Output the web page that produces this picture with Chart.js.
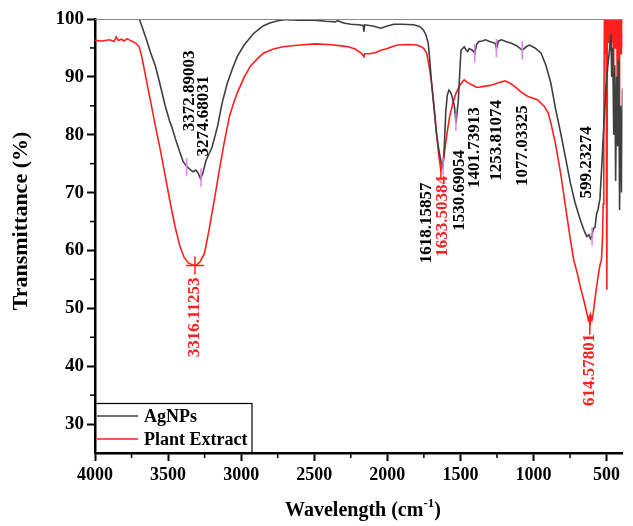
<!DOCTYPE html>
<html>
<head>
<meta charset="utf-8">
<script src="https://cdn.jsdelivr.net/npm/chart.js@4.4.1/dist/chart.umd.min.js"></script>
<style>
  html, body { margin: 0; padding: 0; background: #fff; }
</style>
</head>
<body>
<canvas id="ftir" width="633" height="526"></canvas>
<script>
  // AgNPs spectrum (wavenumber, transmittance)
  const agWave = [4000, 3900, 3800, 3750, 3700, 3680, 3650, 3620, 3586, 3550, 3520, 3490, 3475, 3450, 3420, 3396,
    3374, 3350, 3330, 3310, 3295, 3278, 3262, 3240, 3200, 3162, 3130, 3095, 3060, 3027, 2980, 2915, 2850, 2804,
    2750, 2692, 2600, 2500, 2420, 2357, 2340, 2300, 2250, 2200, 2165, 2160, 2155, 2100, 2044, 2000, 1954, 1900,
    1820, 1780, 1753, 1735, 1720, 1710, 1697, 1680, 1664, 1645, 1630, 1619, 1610, 1600, 1590, 1579, 1567, 1557,
    1541, 1530, 1522, 1514, 1505, 1496, 1474, 1460, 1451, 1440, 1418, 1401, 1390, 1373, 1350, 1329, 1300, 1262,
    1253, 1240, 1217, 1190, 1150, 1110, 1077, 1050, 1027, 990, 948, 915, 881, 850, 814, 780, 747, 715, 680, 650,
    635, 620, 610, 601, 590, 579, 568, 559, 545, 532, 518, 505, 491, 478, 470, 465, 458, 451, 444, 438, 431, 424,
    417, 411, 404, 397, 391];
  const agTrans = [103.5, 103.4, 103.2, 102.5, 100.2, 98.8, 96.6, 94.2, 91.8, 88.2, 85.0, 82.4, 81.4, 79.3, 77.0, 75.3,
    74.6, 74.0, 73.6, 73.9, 73.4, 72.4, 73.4, 75.6, 77.8, 81.4, 85.5, 88.9, 91.4, 93.5, 95.5, 97.5, 98.8, 99.3,
    99.7, 99.9, 99.8, 99.8, 99.6, 99.5, 99.7, 99.3, 99.1, 99.0, 98.9, 97.8, 99.0, 98.8, 98.4, 98.8, 99.1, 99.1,
    99.0, 98.7, 98.1, 97.2, 95.8, 93.0, 88.9, 84.5, 80.3, 77.0, 75.1, 74.5, 78.0, 84.0, 86.8, 87.7, 87.3, 86.6,
    84.9, 82.0, 84.0, 86.0, 90.5, 94.6, 95.2, 94.6, 94.4, 94.9, 94.6, 94.1, 95.6, 96.1, 96.2, 96.4, 96.1, 95.8,
    94.9, 96.2, 96.4, 96.1, 95.8, 95.3, 94.6, 95.2, 95.5, 95.0, 94.1, 92.0, 88.9, 84.6, 80.3, 75.9, 71.6, 68.2, 65.3, 63.2,
    62.4, 62.7, 62.0, 62.4, 63.8, 64.0, 66.4, 67.0, 69.0, 75.0, 82.0, 88.0, 92.0, 95.0, 97.4, 90.0, 95.0, 80.0,
    92.0, 72.0, 90.0, 78.0, 93.0, 67.0, 85.0, 70.0, 88.0];

  // Plant extract spectrum
  const plWave = [4000, 3950, 3900, 3870, 3855, 3840, 3820, 3800, 3780, 3760, 3743, 3720, 3698, 3680, 3665, 3653,
    3620, 3586, 3550, 3519, 3485, 3452, 3420, 3390, 3360, 3330, 3316, 3300, 3280, 3251, 3220, 3184, 3150, 3117,
    3080, 3050, 3027, 2980, 2938, 2890, 2848, 2780, 2714, 2600, 2491, 2400, 2330, 2268, 2220, 2180, 2160, 2156,
    2120, 2080, 2044, 2000, 1960, 1932, 1850, 1800, 1775, 1750, 1731, 1715, 1697, 1680, 1664, 1648, 1634, 1620,
    1607, 1590, 1574, 1550, 1530, 1500, 1474, 1450, 1418, 1390, 1373, 1330, 1284, 1240, 1195, 1160, 1127, 1080,
    1038, 1000, 971, 926, 900, 881, 850, 814, 780, 747, 725, 700, 680, 655, 635, 625, 618, 614, 608, 600, 591,
    580, 568, 555, 545, 535, 528, 523, 519, 514, 508, 504, 498, 494, 489, 485, 481, 478, 474, 471, 467, 465, 461,
    458, 454, 451, 447, 444, 441, 438, 434, 431, 427, 424, 420, 417, 414, 411, 407, 404, 400, 397, 394, 391];
  const plTrans = [96.3, 96.2, 96.4, 96.1, 96.9, 96.3, 96.5, 96.2, 96.6, 96.3, 96.1, 95.8, 95.2, 93.5, 91.6, 90.0,
    85.8, 81.4, 77.0, 72.8, 68.2, 64.1, 60.8, 58.8, 57.8, 57.5, 57.4, 57.6, 58.1, 59.5, 63.5, 68.7, 73.8, 78.5,
    83.2, 85.6, 87.2, 89.9, 91.8, 93.1, 94.1, 94.8, 95.2, 95.5, 95.7, 95.6, 95.4, 95.2, 94.8, 94.1, 93.5, 94.0,
    94.0, 94.2, 94.6, 94.9, 95.3, 95.5, 95.6, 95.5, 95.3, 94.9, 94.1, 92.0, 88.9, 84.8, 80.3, 76.5, 73.9, 74.8,
    77.4, 80.5, 83.1, 85.6, 87.2, 88.7, 89.5, 89.0, 88.6, 88.2, 88.2, 88.4, 88.6, 89.0, 89.3, 88.9, 88.3, 87.3,
    86.6, 86.3, 86.0, 84.9, 83.8, 82.0, 78.5, 73.3, 67.4, 61.8, 58.4, 56.0, 53.8, 51.3, 49.2, 48.0, 48.5, 47.0, 48.8, 48.0, 49.2,
    51.5, 53.8, 56.0, 57.5, 58.4, 62.0, 68.0, 80.0, 104, 94, 104, 53.2, 104, 96, 104, 98, 104, 95, 104, 99, 104,
    96, 104, 92, 104, 97, 104, 95, 104, 98, 104, 88, 104, 96, 104, 85, 104, 97, 104, 94, 104, 95];

  // Peak picks
  const agPeaks = [3372.89003, 3274.68031, 1618.15857, 1530.69054, 1401.73913, 1253.81074, 1077.03325, 599.23274];
  const agPeakT = [74.4, 72.6, 74.5, 82.2, 94.1, 95.0, 94.6, 62.4];
  const plPeaks = [3316.11253, 1633.50384, 614.57801];
  const plPeakT = [57.4, 73.9, 47.0];

  const xTicks = [4000, 3500, 3000, 2500, 2000, 1500, 1000, 500];
  const xMinor = [3750, 3250, 2750, 2250, 1750, 1250, 750];
  const yTicks = [30, 40, 50, 60, 70, 80, 90, 100];
  const yMinor = [35, 45, 55, 65, 75, 85, 95];

  const FONT = '"Liberation Serif", "Times New Roman", serif';
  const AG_COLOR = "#3f3f3f";
  const PL_COLOR = "#ff1f1f";
  const PEAK_COLOR = "#e47cf2";

  function pairs(xs, ys) {
    return xs.map((x, i) => ({ x: x, y: ys[i] }));
  }

  // label placement: pixel shift from the marker (negative dy = text above)
  const agLabelDx = [3, 3, -17, 4, 0, 0, 0, -5];
  const agLabelDy = [-36, -21, 16, 28, 54, 52, 55, -38];
  const plLabelDx = [0, 2, 0];
  const plLabelDy = [12, 6, 8];

  const extras = {
    id: "extras",
    afterDatasetsDraw(chart) {
      const ctx = chart.ctx;
      const area = chart.chartArea;
      const xs = chart.scales.x;
      const ys = chart.scales.y;
      ctx.save();

      // top frame line
      ctx.strokeStyle = "#8a8a8a";
      ctx.lineWidth = 1;
      ctx.beginPath();
      ctx.moveTo(area.left, area.top + 0.5);
      ctx.lineTo(area.right, area.top + 0.5);
      ctx.stroke();

      // minor ticks
      ctx.strokeStyle = "#000";
      ctx.lineWidth = 1.5;
      yMinor.forEach(v => {
        const py = ys.getPixelForValue(v);
        ctx.beginPath();
        ctx.moveTo(area.left - 5, py);
        ctx.lineTo(area.left, py);
        ctx.stroke();
      });
      xMinor.forEach(v => {
        const px = xs.getPixelForValue(v);
        ctx.beginPath();
        ctx.moveTo(px, area.bottom);
        ctx.lineTo(px, area.bottom + 5);
        ctx.stroke();
      });

      // peak labels
      ctx.font = "bold 17px " + FONT;
      ctx.textBaseline = "middle";
      function label(val, t, dx, dy, color) {
        const px = xs.getPixelForValue(val) + dx;
        const py = ys.getPixelForValue(t) + dy;
        ctx.save();
        ctx.translate(px, py);
        ctx.rotate(-Math.PI / 2);
        ctx.fillStyle = color;
        ctx.textAlign = dy < 0 ? "left" : "right";
        ctx.fillText(val.toFixed(5), 0, 0);
        ctx.restore();
      }
      agPeaks.forEach((v, i) => label(v, agPeakT[i], agLabelDx[i], agLabelDy[i], "#000"));
      plPeaks.forEach((v, i) => label(v, plPeakT[i], plLabelDx[i], plLabelDy[i], PL_COLOR));

      // legend box
      const bx = area.left, by = 403, bw = 157, bh = area.bottom - by;
      ctx.strokeStyle = "#000";
      ctx.lineWidth = 1.2;
      ctx.strokeRect(bx, by + 0.5, bw, bh);
      const entries = [["AgNPs", AG_COLOR, 416], ["Plant Extract", PL_COLOR, 439]];
      ctx.font = "bold 18px " + FONT;
      ctx.textAlign = "left";
      entries.forEach(e => {
        ctx.strokeStyle = e[1];
        ctx.lineWidth = 1.6;
        ctx.beginPath();
        ctx.moveTo(bx + 2, e[2]);
        ctx.lineTo(bx + 43, e[2]);
        ctx.stroke();
        ctx.fillStyle = "#000";
        ctx.fillText(e[0], bx + 49, e[2] + 1);
      });

      // axis titles
      ctx.fillStyle = "#000";
      ctx.save();
      ctx.translate(21, 221);
      ctx.rotate(-Math.PI / 2);
      ctx.font = "bold 22px " + FONT;
      ctx.textAlign = "center";
      ctx.fillText("Transmittance (%)", 0, 0);
      ctx.restore();

      const main = "Wavelength (cm";
      ctx.font = "bold 20px " + FONT;
      const w1 = ctx.measureText(main).width;
      ctx.font = "bold 13px " + FONT;
      const w2 = ctx.measureText("-1").width;
      ctx.font = "bold 20px " + FONT;
      const w3 = ctx.measureText(")").width;
      let tx = 363 - (w1 + w2 + w3) / 2;
      const ty = 511;
      ctx.textAlign = "left";
      ctx.fillText(main, tx, ty);
      tx += w1;
      ctx.font = "bold 13px " + FONT;
      ctx.fillText("-1", tx, ty - 7);
      tx += w2;
      ctx.font = "bold 20px " + FONT;
      ctx.fillText(")", tx, ty);

      ctx.restore();
    }
  };

  const ctx = document.getElementById("ftir").getContext("2d");
  new Chart(ctx, {
    type: "line",
    data: {
      datasets: [
        {
          label: "AgNPs peaks",
          data: pairs(agPeaks, agPeakT),
          showLine: false,
          pointStyle: "line",
          rotation: 90,
          pointRadius: 9,
          pointBorderWidth: 1.5,
          pointBorderColor: PEAK_COLOR,
          order: 0
        },
        {
          label: "Plant Extract peaks",
          data: pairs(plPeaks, plPeakT),
          showLine: false,
          pointStyle: ["cross", "line", "line"],
          rotation: [0, 90, 90],
          pointRadius: 9,
          pointBorderWidth: 1.5,
          pointBorderColor: PL_COLOR,
          order: 0
        },
        {
          label: "AgNPs",
          data: pairs(agWave, agTrans),
          borderColor: AG_COLOR,
          borderWidth: 1.6,
          pointRadius: 0,
          tension: 0,
          order: 1
        },
        {
          label: "Plant Extract",
          data: pairs(plWave, plTrans),
          borderColor: PL_COLOR,
          borderWidth: 1.6,
          pointRadius: 0,
          tension: 0,
          order: 2
        }
      ]
    },
    options: {
      responsive: false,
      animation: false,
      layout: { padding: { top: 19, right: 0, left: 0, bottom: 0 } },
      plugins: { legend: { display: false }, tooltip: { enabled: false } },
      scales: {
        x: {
          type: "linear",
          reverse: true,
          min: 391,
          max: 4000,
          afterBuildTicks: s => { s.ticks = xTicks.map(v => ({ value: v })); },
          afterFit: s => { s.height = 73; },
          border: { color: "#000", width: 2.5 },
          grid: { drawOnChartArea: false, tickLength: 8, tickColor: "#000", tickWidth: 2 },
          ticks: {
            autoSkip: false,
            maxRotation: 0,
            padding: 4,
            color: "#000",
            callback: v => String(v),
            font: { family: FONT, size: 18, weight: "bold" }
          }
        },
        y: {
          min: 25,
          max: 100,
          afterBuildTicks: s => { s.ticks = yTicks.map(v => ({ value: v })); },
          afterFit: s => { s.width = 95; },
          border: { color: "#000", width: 2.5 },
          grid: { drawOnChartArea: false, tickLength: 8, tickColor: "#000", tickWidth: 2 },
          ticks: {
            padding: 3,
            color: "#000",
            callback: v => String(v),
            font: { family: FONT, size: 19, weight: "bold" }
          }
        }
      }
    },
    plugins: [extras]
  });
</script>
</body>
</html>
